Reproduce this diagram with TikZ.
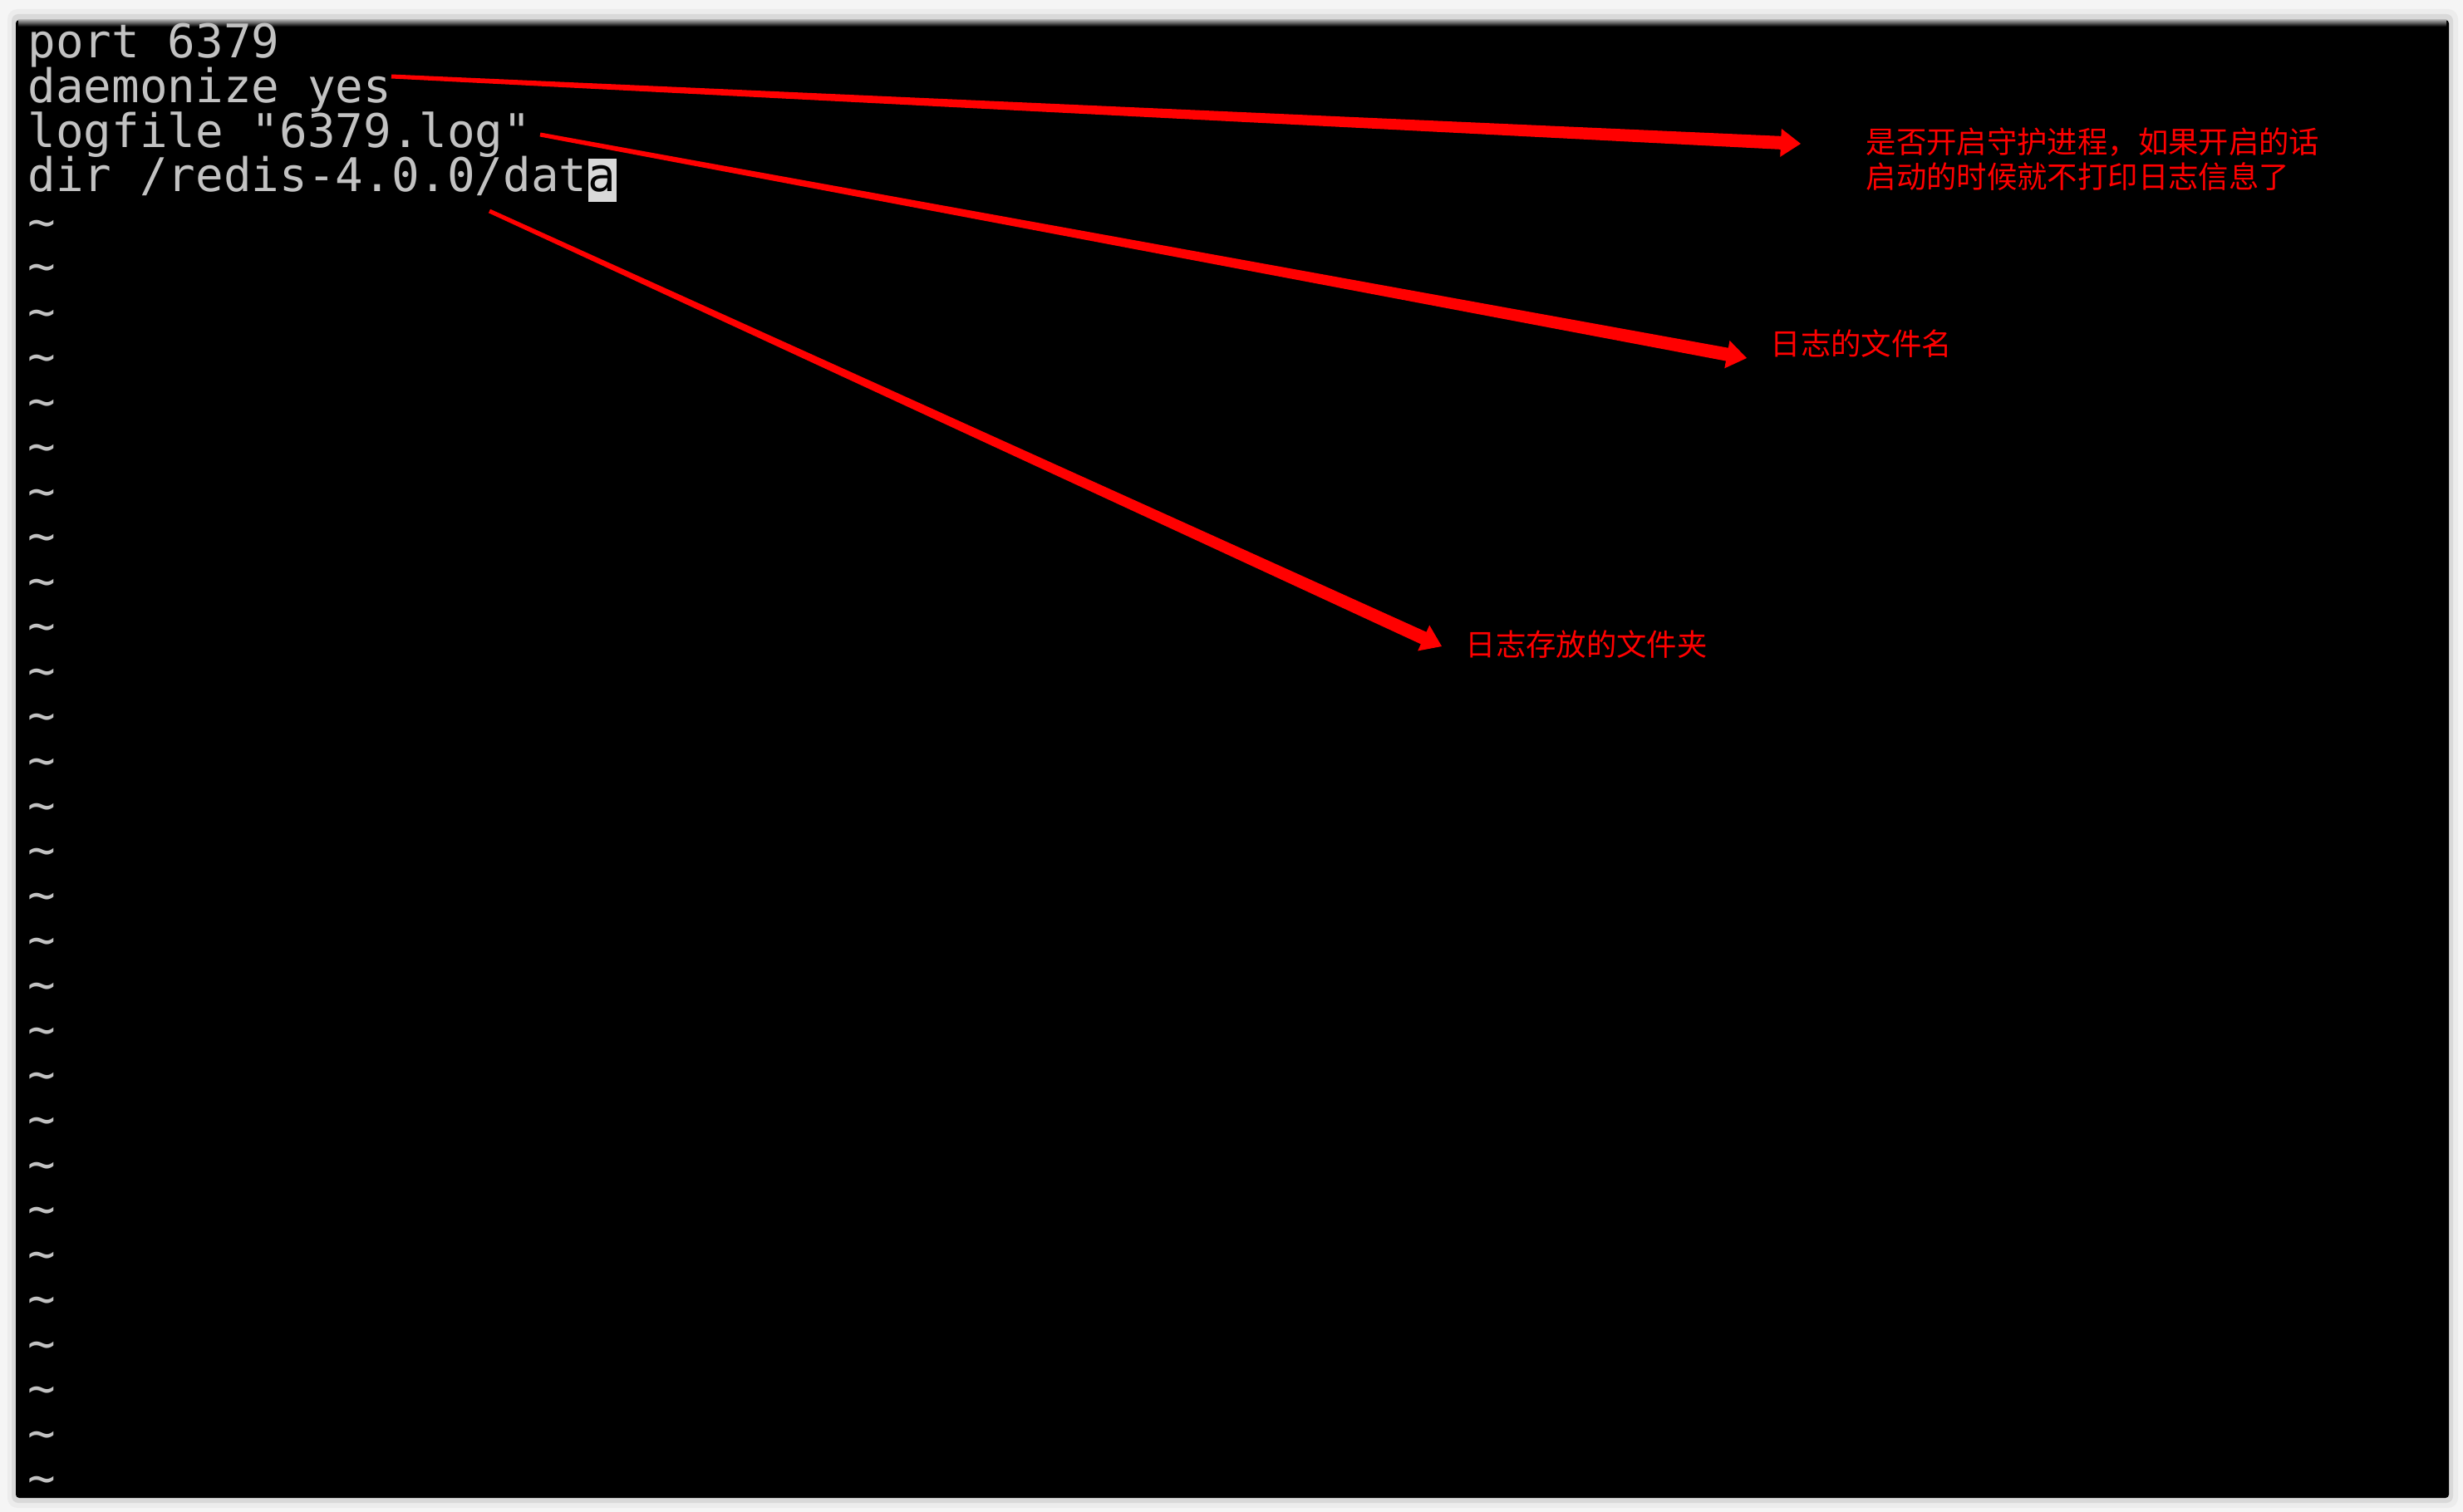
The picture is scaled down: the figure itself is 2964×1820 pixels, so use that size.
\documentclass[tikz,border=0pt]{standalone}
\usepackage{fontspec}
\newfontfamily\termfont{DejaVu Sans Mono}
\newfontfamily\cjk{Noto Sans CJK SC}
\usetikzlibrary{calc,positioning}

% tapered red arrow: #1 = start, #2 = tip
\newcommand{\redarrow}[2]{%
    \coordinate (#2h) at ($(#2)!2.4mm!(#1)$);
    \fill[arrowred] ($(#1)!0.25mm!90:(#2)$) -- ($(#2h)!0.8mm!-90:(#1)$)
        -- ($(#2h)!1.7mm!-90:(#1)$) -- (#2) -- ($(#2h)!1.7mm!90:(#1)$)
        -- ($(#2h)!0.8mm!90:(#1)$) -- ($(#1)!0.25mm!-90:(#2)$) -- cycle;}

\begin{document}
\begin{tikzpicture}[
    x=0.1mm, y=-0.1mm,
    term/.style={anchor=base west, inner sep=0pt, text=white!76!black,
        font=\termfont\fontsize{15.9pt}{15.9pt}\selectfont},
    cursor/.style={term, fill=white!85!black, text=black,
        text height=4mm, text depth=1.2mm},
    note/.style={anchor=west, inner sep=0pt, text=red, align=left,
        font=\cjk\fontsize{10.35pt}{11.95pt}\selectfont},
    arrowred/.style={fill=red}
]
    \useasboundingbox (0,0) rectangle (2964,1820);

    % Window with shadow
    \fill[white!96!black] (0,0) rectangle (2964,1820);
    \fill[gray!15, rounded corners=1.2mm] (9,11) rectangle (2958,1815);
    \fill[gray!30, rounded corners=0.8mm] (14,17) rectangle (2952,1809);
    \fill[black, rounded corners=0.4mm] (19,24) rectangle (2947,1803);
    \shade[top color=gray!70, bottom color=black] (22,24) rectangle (2944,32);

    % --- Config lines ---
    \node[term] (port) at (33, 70) {port 6379};
    \node[term] (daemon) at (33, 123.6) {daemonize yes};
    \node[term] (logfile) at (33, 177.2) {logfile "6379.log"};
    \node[term] (dir) at (33, 230.8) {dir /redis-4.0.0/dat};
    \node[cursor] (cur) at (dir.base east) {a};

    % empty rows
    \foreach \n in {4,...,32}
        \node[term] (tilde\n) at (33, {70+54*\n}) {\textasciitilde};

    % --- Notes ---
    \node[note] (daemonlbl) at (2245, 192) {是否开启守护进程，如果开启的话\\启动的时候就不打印日志信息了};
    \node[note] (loglbl) at (2130, 414) {日志的文件名};
    \node[note] (dirlbl) at (1763, 776) {日志存放的文件夹};

    % Arrows
    \coordinate (daemonS) at (471, 92);
    \coordinate (daemonT) at (2167, 173);
    \coordinate (logS) at (650, 162);
    \coordinate (logT) at (2102, 431);
    \coordinate (dirS) at (589, 254);
    \coordinate (dirT) at (1735, 778);

    \redarrow{daemonS}{daemonT}
    \redarrow{logS}{logT}
    \redarrow{dirS}{dirT}
\end{tikzpicture}
\end{document}
